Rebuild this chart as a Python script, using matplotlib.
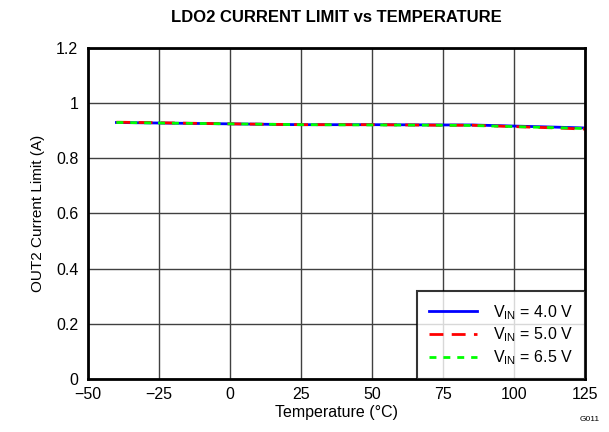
import matplotlib
matplotlib.use('Agg')
import matplotlib.pyplot as plt

plt.rcParams['font.family'] = ['Liberation Sans', 'DejaVu Sans']

temperature = [-40, -25, 0, 25, 50, 75, 85, 100, 115, 125]
vin_40 = [0.930, 0.928, 0.925, 0.922, 0.922, 0.921, 0.921, 0.917, 0.913, 0.910]
vin_50 = [0.931, 0.929, 0.925, 0.922, 0.922, 0.920, 0.920, 0.915, 0.910, 0.906]
vin_65 = [0.930, 0.928, 0.925, 0.922, 0.921, 0.920, 0.919, 0.915, 0.911, 0.908]

x_ticks = [-50, -25, 0, 25, 50, 75, 100, 125]
y_ticks = [0, 0.2, 0.4, 0.6, 0.8, 1.0, 1.2]
y_labels = ['0', '0.2', '0.4', '0.6', '0.8', '1', '1.2']

fig = plt.figure(figsize=(6.09, 4.32), dpi=100)
ax = fig.add_axes([0.1445, 0.1227, 0.8161, 0.7662])

ax.plot(temperature, vin_40, color='#0000ff', linewidth=2, linestyle='-', label=r'V$_{\mathregular{IN}}$ = 4.0 V')
ax.plot(temperature, vin_50, color='#ff0000', linewidth=2, linestyle=(0, (5, 3)), label=r'V$_{\mathregular{IN}}$ = 5.0 V')
ax.plot(temperature, vin_65, color='#00ff00', linewidth=2, linestyle=(0, (2.5, 2.5)), label=r'V$_{\mathregular{IN}}$ = 6.5 V')

ax.set_xlim(-50, 125)
ax.set_ylim(0, 1.2)
ax.set_xticks(x_ticks)
ax.set_xticklabels(['\u221250', '\u221225', '0', '25', '50', '75', '100', '125'])
ax.set_yticks(y_ticks)
ax.set_yticklabels(y_labels)
ax.tick_params(length=0, labelsize=11.5)
ax.tick_params(axis='x', pad=6)
ax.tick_params(axis='y', pad=7)
ax.grid(True, color='#404040', linewidth=1)
ax.set_axisbelow(True)
for s in ax.spines.values():
    s.set_linewidth(2)
    s.set_color('black')

ax.set_xlabel('Temperature (\u00b0C)', fontsize=11.5, labelpad=2)
ax.set_ylabel('OUT2 Current Limit (A)', fontsize=11, labelpad=8)
ax.set_title('LDO2 CURRENT LIMIT vs TEMPERATURE', fontsize=12, fontweight='bold', pad=19)

leg = ax.legend(loc='lower right', fontsize=11.5, frameon=True, fancybox=False,
                borderaxespad=0, handlelength=3.0, handletextpad=1.0,
                labelspacing=0.25, borderpad=0.75)
leg.get_frame().set_edgecolor('black')
leg.get_frame().set_linewidth(1.5)

fig.text(0.985, 0.025, 'G011', fontsize=6, ha='right')

fig.savefig('out.png', dpi=100)
